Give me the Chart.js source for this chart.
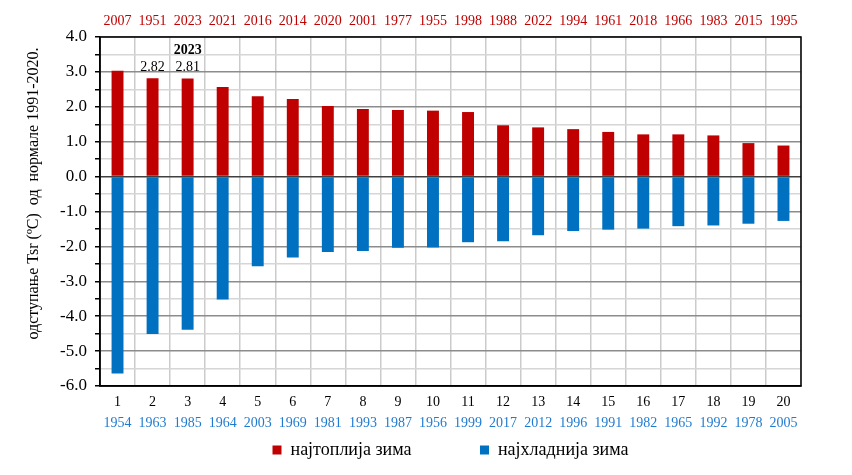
<!DOCTYPE html>
<html>
<head>
<meta charset="utf-8">
<script src="https://cdn.jsdelivr.net/npm/chart.js@4/dist/chart.umd.min.js"></script>
<style>
  html, body { margin: 0; padding: 0; background: #fff; }
</style>
</head>
<body>
<canvas id="myChart" width="852" height="475"></canvas>
<script>
// rank of the winter, warmest and coldest years, deviation from 1991-2020 normal
const ranks = ['1', '2', '3', '4', '5', '6', '7', '8', '9', '10', '11', '12', '13', '14', '15', '16', '17', '18', '19', '20'];
const warmYears = ['2007', '1951', '2023', '2021', '2016', '2014', '2020', '2001', '1977', '1955', '1998', '1988', '2022', '1994', '1961', '2018', '1966', '1983', '2015', '1995'];
const coldYears = ['1954', '1963', '1985', '1964', '2003', '1969', '1981', '1993', '1987', '1956', '1999', '2017', '2012', '1996', '1991', '1982', '1965', '1992', '1978', '2005'];
const warmDev = [3.03, 2.82, 2.81, 2.57, 2.30, 2.22, 2.02, 1.94, 1.91, 1.89, 1.85, 1.47, 1.41, 1.36, 1.28, 1.21, 1.21, 1.18, 0.96, 0.89];
const coldDev = [-5.64, -4.51, -4.39, -3.52, -2.57, -2.32, -2.16, -2.13, -2.04, -2.03, -1.88, -1.85, -1.68, -1.56, -1.52, -1.49, -1.42, -1.40, -1.35, -1.27];
const seriesNames = ['најтоплија зима', 'најхладнија зима'];

// values written above some bars
const noteBars = [1, 2];
const noteValues = ['2.82', '2.81'];
const noteYear = '2023';
const noteYearBar = 2;

const yTicks = { min: -6, max: 4, step: 0.5 };

const serif = '"Liberation Serif", "Times New Roman", serif';
Chart.defaults.font.family = serif;
Chart.defaults.color = '#000';

const extras = {
    id: 'extras',
    afterDatasetsDraw(chart) {
        const c = chart.ctx;
        const meta = chart.getDatasetMeta(0);
        c.save();
        c.fillStyle = '#000';
        c.textAlign = 'center';
        c.textBaseline = 'middle';
        c.font = '14px ' + serif;
        noteBars.forEach((idx, k) => {
            const bar = meta.data[idx];
            c.fillText(noteValues[k], bar.x, bar.y - 11);
        });
        c.font = 'bold 14px ' + serif;
        const b = meta.data[noteYearBar];
        c.fillText(noteYear, b.x, b.y - 28);
        c.restore();
    },
    afterDraw(chart) {
        const a = chart.chartArea;
        const c = chart.ctx;
        c.save();
        c.strokeStyle = '#000';
        c.lineWidth = 1.5;
        c.strokeRect(a.left, a.top, a.right - a.left, a.bottom - a.top);
        c.restore();
    }
};

const ctx = document.getElementById('myChart');

new Chart(ctx, {
    type: 'bar',
    data: {
        labels: ranks,
        datasets: [{
            label: seriesNames[0],
            data: warmDev,
            backgroundColor: '#c00000',
            borderWidth: 0,
            xAxisID: 'x'
        }, {
            label: seriesNames[1],
            data: coldDev,
            backgroundColor: '#0070c0',
            borderWidth: 0,
            xAxisID: 'x'
        }]
    },
    options: {
        responsive: false,
        animation: false,
        barPercentage: 0.34,
        categoryPercentage: 1.0,
        layout: {
            padding: { left: 20, right: 51, top: 0, bottom: 6 }
        },
        scales: {
            x: {
                stacked: true,
                position: 'bottom',
                grid: { color: '#cbcbcb', lineWidth: 1.5, drawTicks: false, offset: true },
                border: { color: '#000', width: 1.5 },
                ticks: { font: { size: 14 }, color: '#000', padding: 8 },
                afterFit: (s) => { s.height = 26; }
            },
            xCold: {
                type: 'category',
                labels: coldYears,
                position: 'bottom',
                grid: { display: false, drawTicks: false },
                border: { display: false },
                ticks: { font: { size: 14 }, color: '#1f7bd0', padding: 3 },
                afterFit: (s) => { s.height = 19; }
            },
            xWarm: {
                type: 'category',
                labels: warmYears,
                position: 'top',
                grid: { display: false, drawTicks: false },
                border: { display: false },
                ticks: { font: { size: 14 }, color: '#c00000', padding: 7 },
                afterFit: (s) => { s.height = 37; }
            },
            y: {
                stacked: true,
                min: yTicks.min,
                max: yTicks.max,
                ticks: {
                    stepSize: yTicks.step,
                    autoSkip: false,
                    font: { size: 17 },
                    color: '#000',
                    padding: 8,
                    callback: (value) => Number.isInteger(value) ? value.toFixed(1) : ''
                },
                grid: {
                    lineWidth: 1.5,
                    tickLength: 5,
                    tickColor: '#000',
                    color: (c) => {
                        const v = c.tick ? c.tick.value : 1;
                        if (v === 0) return '#404040';
                        return Number.isInteger(v) ? '#8c8c8c' : '#d6d6d6';
                    }
                },
                border: { color: '#000', width: 1.5 },
                title: {
                    display: true,
                    text: '\u00a0'.repeat(9) + 'одступање Tsr (ºC)  од  нормале 1991-2020.',
                    font: { size: 16 },
                    color: '#000'
                },
                afterFit: (s) => { s.width = 80; }
            }
        },
        plugins: {
            tooltip: { enabled: false },
            legend: {
                position: 'bottom',
                fullSize: false,
                labels: {
                    boxWidth: 9,
                    boxHeight: 9,
                    padding: 10,
                    font: { size: 18 },
                    color: '#000',
                    generateLabels: (chart) => {
                        const items = Chart.defaults.plugins.legend.labels.generateLabels(chart);
                        items[0].text = items[0].text + '\u00a0'.repeat(13);
                        return items;
                    }
                }
            }
        }
    },
    plugins: [extras]
});
</script>
</body>
</html>
